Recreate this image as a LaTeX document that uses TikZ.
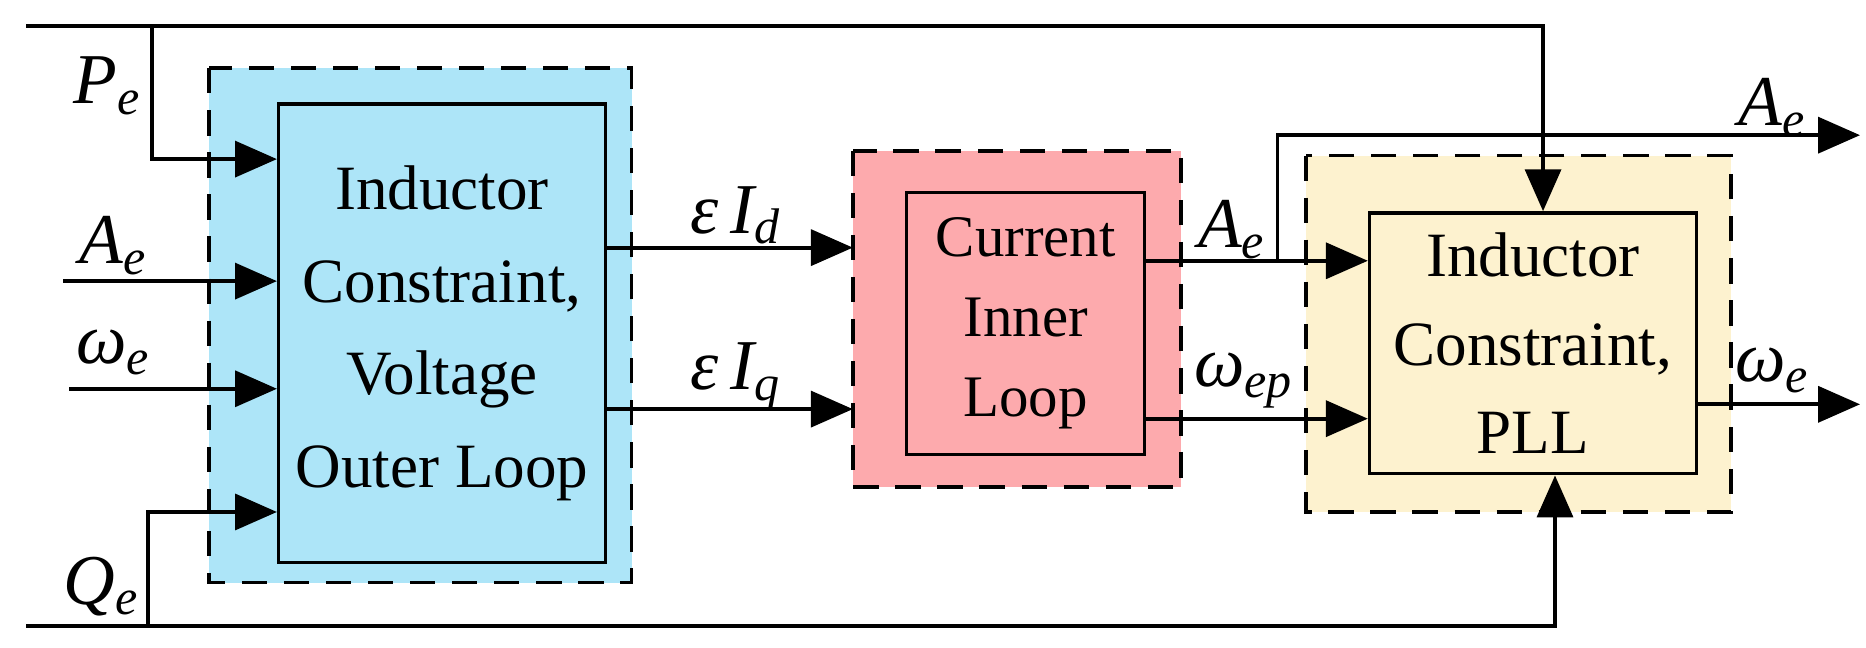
\documentclass[tikz,border=0pt]{standalone}
\usepackage{fontspec}
\setmainfont{Liberation Serif}
\usetikzlibrary{arrows.meta}
\definecolor{cblue}{HTML}{ADE5F8}
\definecolor{cred}{HTML}{FDAAAD}
\definecolor{cyel}{HTML}{FDF2CF}
\begin{document}
\begin{tikzpicture}[x=0.01cm,y=-0.01cm,
  dbox/.style={draw,dashed,line width=0.9pt,dash pattern=on 6pt off 4pt},
  ibox/.style={draw,line width=0.8pt},
  wire/.style={line width=0.9pt},
  arr/.style={wire,-{Triangle[length=0.35cm,width=0.3cm]}},
  txt/.style={font=\fontsize{15}{19}\selectfont,align=center},
  lab/.style={font=\fontsize{17}{19}\selectfont\itshape}]
\useasboundingbox (0,0) rectangle (1560,541);
% boxes
\fill[cblue] (175,57) rectangle (528,487);
\draw[dbox] (175,57) rectangle (528,487);
\node[ibox,fill=cblue,minimum width=2.73cm,minimum height=3.83cm,txt] (vol) at (369.5,278.5) {Inductor\\[3pt]Constraint,\\[3pt]Voltage\\[3pt]Outer Loop};
\fill[cred] (713,126) rectangle (987,407);
\draw[dbox] (713,126) rectangle (987,407);
\node[ibox,fill=cred,minimum width=1.99cm,minimum height=2.19cm,txt,font=\fontsize{14}{17}\selectfont] (cur) at (857.5,270.5) {Current\\[2pt]Inner\\[2pt]Loop};
\fill[cyel] (1092,130) rectangle (1447,428);
\draw[dbox] (1092,130) rectangle (1447,428);
\node[ibox,fill=cyel,minimum width=2.73cm,minimum height=2.18cm,txt] (pll) at (1281.5,287) {Inductor\\[2pt]Constraint,\\[2pt]PLL};
% coordinates
\coordinate (tl) at (22,22);
\coordinate (tr) at (1290,22);
\coordinate (pb) at (127,22);
\coordinate (pe) at (127,133);
\coordinate (ae0) at (53,235);
\coordinate (we0) at (58,325);
\coordinate (bl) at (22,523);
\coordinate (br) at (1300,523);
\coordinate (qb) at (124,523);
\coordinate (qe) at (124,428);
\coordinate (aebr) at (1068,218);
\coordinate (aeout) at (1555,113);
% wires
\draw[arr] (tl) -- (tr) -- (pll.north -| tr);
\draw[arr] (pb) -- (pe) -- (pe -| vol.west);
\draw[arr] (ae0) -- (ae0 -| vol.west);
\draw[arr] (we0) -- (we0 -| vol.west);
\draw[arr] (bl) -- (br) -- (pll.south -| br);
\draw[arr] (qb) -- (qe) -- (qe -| vol.west);
\draw[arr] (vol.east |- 0,207) -- (713,207);
\draw[arr] (vol.east |- 0,342) -- (713,342);
\draw[arr] (cur.east |- 0,218) -- (pll.west |- 0,218);
\draw[arr] (aebr) |- (aeout);
\draw[arr] (cur.east |- 0,350) -- (pll.west |- 0,350);
\draw[arr] (pll.east |- 0,338) -- (1555,338);
% labels
\node[lab] (lpe) at (90,72) {P\textsubscript{e}};
\node[lab] (lae) at (95,205) {A\textsubscript{e}};
\node[lab] (lwe) at (95,295) {ω\textsubscript{e}};
\node[lab] (lqe) at (85,490) {Q\textsubscript{e}};
\node[lab] (lid) at (615,180) {ε\,I\textsubscript{d}};
\node[lab] (liq) at (615,315) {ε\,I\textsubscript{q}};
\node[lab] (lae2) at (1030,192) {A\textsubscript{e}};
\node[lab] (lwep) at (1040,318) {ω\textsubscript{ep}};
\node[lab] (lae3) at (1482,90) {A\textsubscript{e}};
\node[lab] (lwe2) at (1482,310) {ω\textsubscript{e}};
\end{tikzpicture}
\end{document}
